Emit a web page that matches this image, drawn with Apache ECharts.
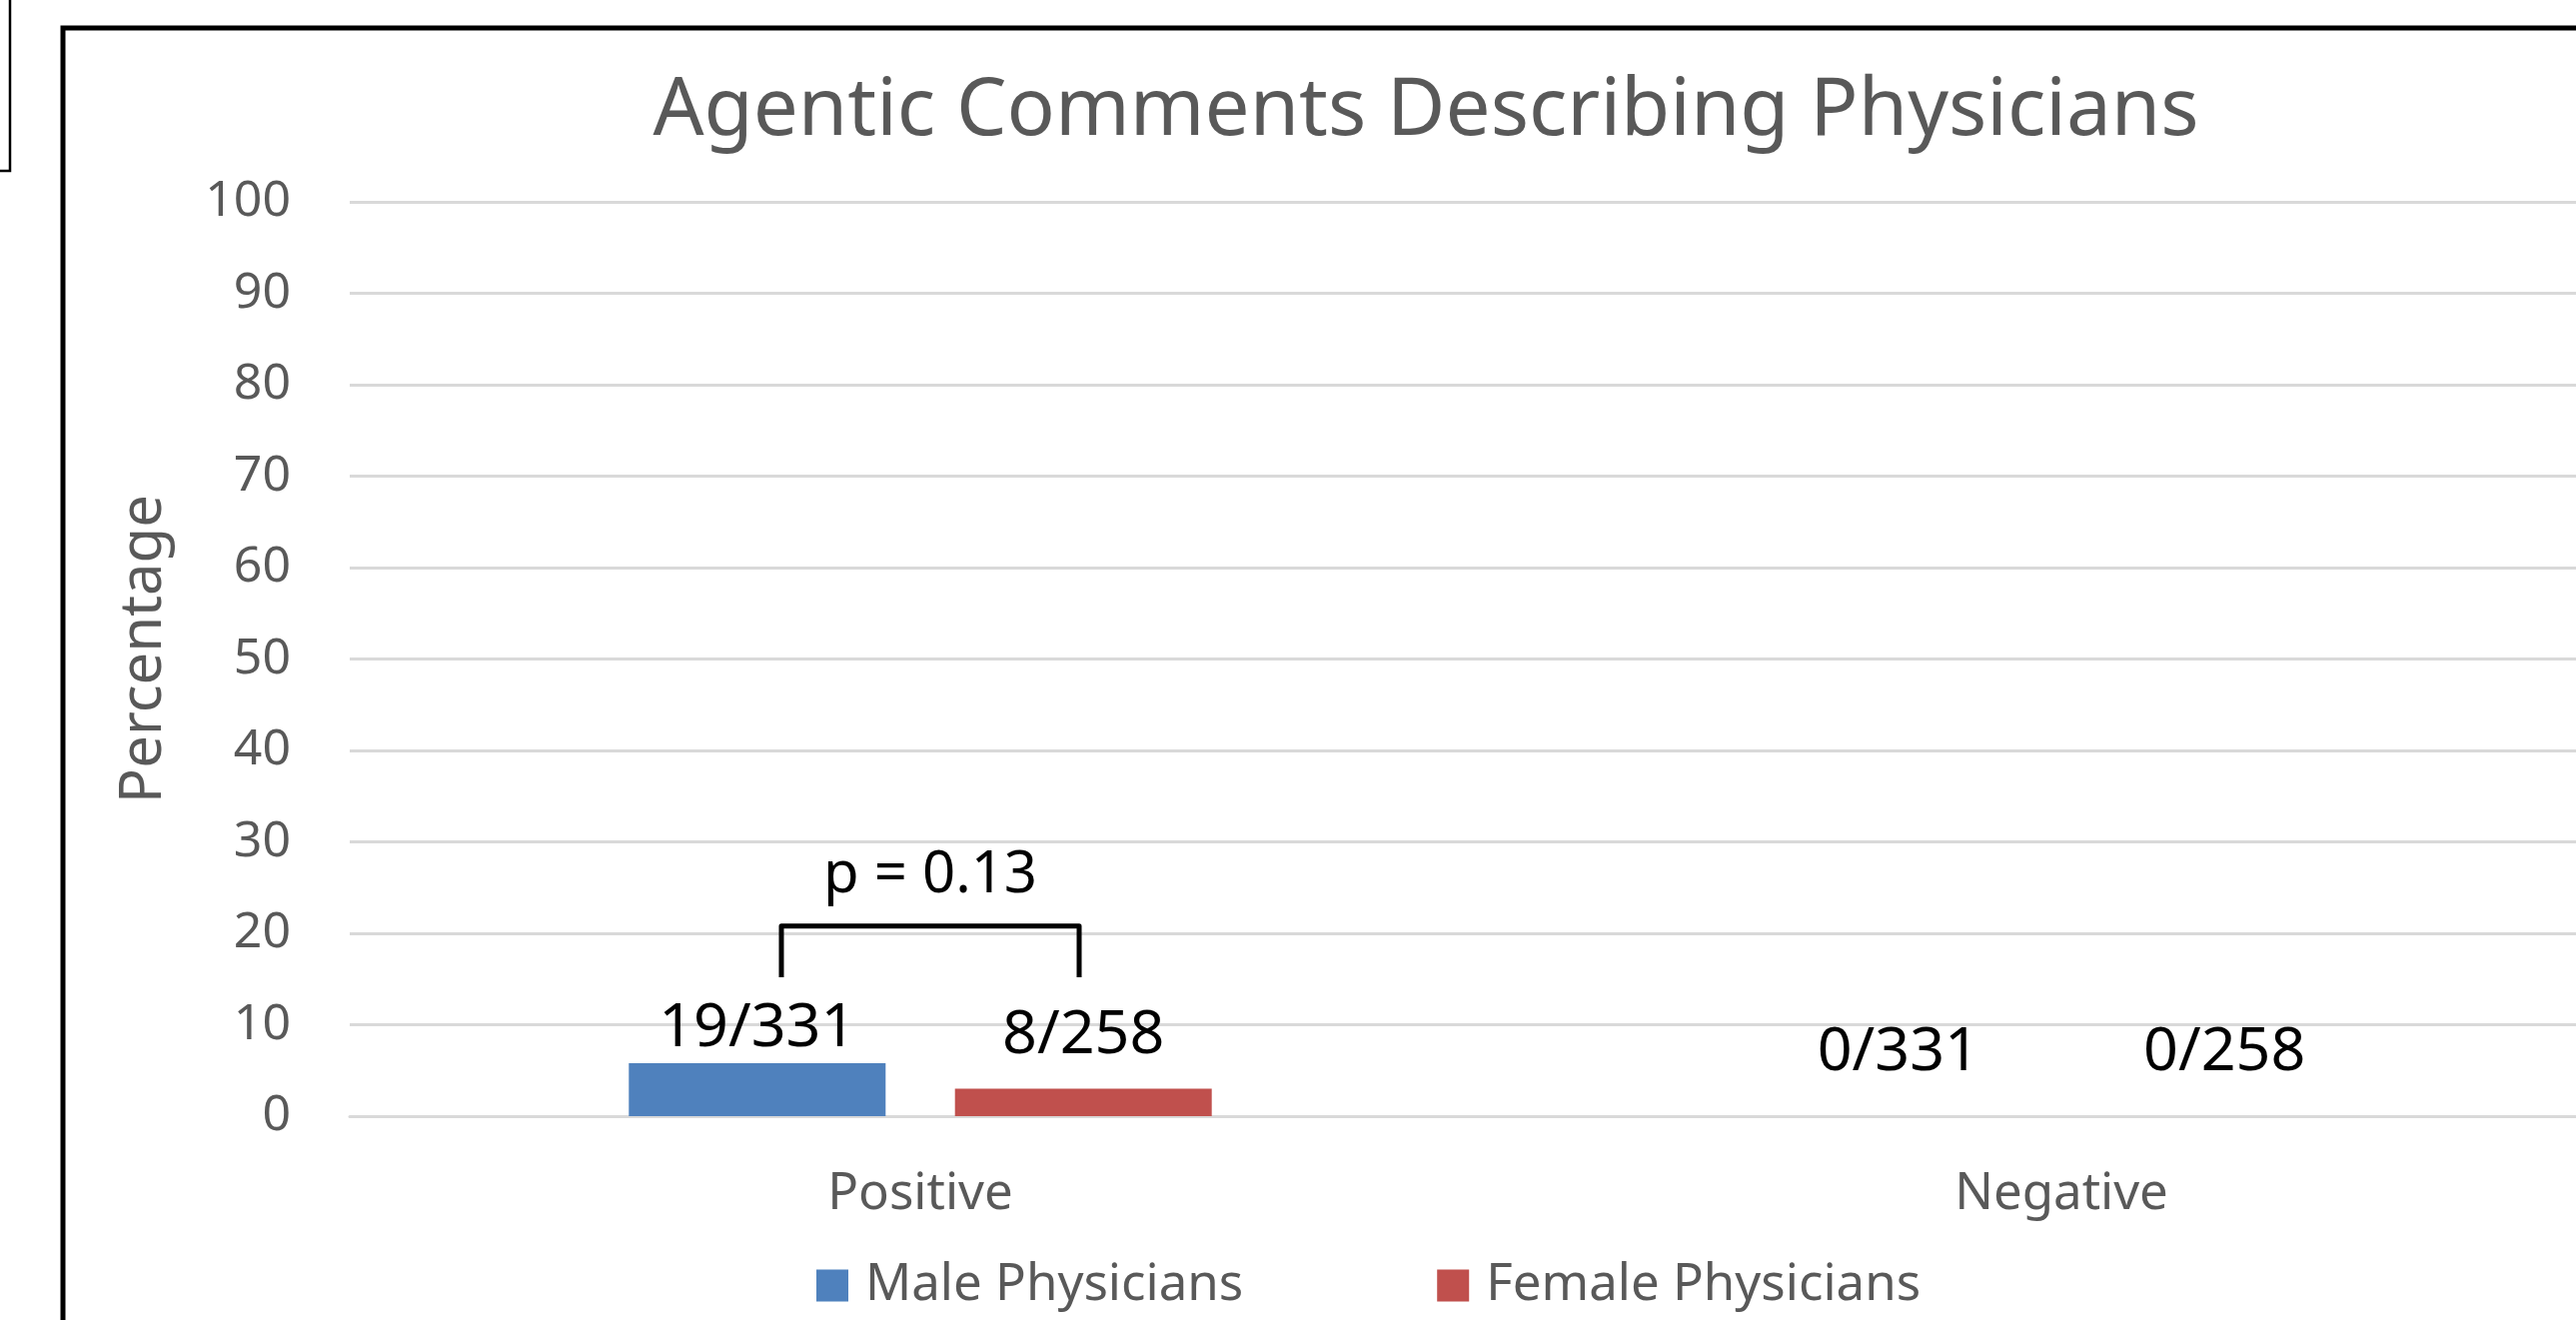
<!DOCTYPE html>
<html>
<head>
<meta charset="utf-8">
<script src="https://cdn.jsdelivr.net/npm/echarts@6/dist/echarts.min.js"></script>
<style>
  html, body { margin: 0; padding: 0; background: #fff; overflow: hidden; }
  #chart { width: 2578px; height: 1321px; }
</style>
</head>
<body>
<div id="chart"></div>
<script>
// data
const categories = ['Positive', 'Negative'];
const malePct = [5.8, 0];
const femalePct = [3.0, 0];
const maleCounts = [19, 0];
const femaleCounts = [8, 0];
const maleTotal = 331;
const femaleTotal = 258;
const seriesNames = ['Male Physicians', 'Female Physicians'];
const yMin = 0, yMax = 100, yStep = 10;

// significance bracket (in y-axis units)
const pText = 'p = 0.13';
const bracketLow = 15.2;
const bracketHigh = 20.8;
const pTextY = 26.3;

const FONT = '"Noto Sans", "Open Sans", sans-serif';
const GREY = '#595959';
const colors = ['#4f81bd', '#c0504d'];

// label lift above each bar (px), hand placed in the original
const maleLabelGap = [4, 33];
const femaleLabelGap = [22, 33];

const chart = echarts.init(document.getElementById('chart'));

const makeData = (vals, counts, total, gaps) =>
    vals.map((v, i) => ({
        value: v,
        label: { distance: gaps[i], formatter: counts[i] + '/' + total }
    }));

const barLabel = {
    show: true,
    position: 'top',
    color: '#000',
    fontFamily: FONT,
    fontSize: 61
};

chart.setOption({
    animation: false,
    backgroundColor: '#fff',
    title: {
        text: 'Agentic Comments Describing Physicians',
        left: 1422,
        top: 67,
        textAlign: 'center',
        textStyle: { color: GREY, fontFamily: FONT, fontSize: 80, fontWeight: 'normal' }
    },
    legend: {
        data: seriesNames,
        left: 812,
        top: 1256,
        icon: 'rect',
        itemWidth: 32,
        itemHeight: 32,
        itemGap: 194,
        textStyle: { color: GREY, fontFamily: FONT, fontSize: 51, padding: [0, 0, 0, 12] }
    },
    grid: {
        left: 350, top: 202, width: 2284, bottom: 204,
        containLabel: false,
        outerBoundsMode: 'none'
    },
    xAxis: {
        type: 'category',
        data: categories,
        axisLine: { show: true, lineStyle: { color: '#d9d9d9', width: 3 } },
        axisTick: { show: false },
        axisLabel: { color: GREY, fontFamily: FONT, fontSize: 51, margin: 53 }
    },
    yAxis: {
        type: 'value',
        min: yMin,
        max: yMax,
        interval: yStep,
        name: 'Percentage',
        nameLocation: 'middle',
        nameGap: 177,
        nameTextStyle: { color: GREY, fontFamily: FONT, fontSize: 58, padding: [0, 0, 0, 20] },
        axisLine: { show: false },
        axisTick: { show: false },
        axisLabel: { color: GREY, fontFamily: FONT, fontSize: 50, margin: 59 },
        splitLine: { lineStyle: { color: '#d9d9d9', width: 3 } }
    },
    series: [
        {
            name: seriesNames[0],
            type: 'bar',
            barWidth: 257,
            barGap: '27%',
            itemStyle: { color: colors[0] },
            label: barLabel,
            data: makeData(malePct, maleCounts, maleTotal, maleLabelGap)
        },
        {
            name: seriesNames[1],
            type: 'bar',
            barWidth: 257,
            barGap: '27%',
            itemStyle: { color: colors[1] },
            label: barLabel,
            data: makeData(femalePct, femaleCounts, femaleTotal, femaleLabelGap)
        }
    ]
});

// bracket + p value, placed through the axes
const center = chart.convertToPixel({ gridIndex: 0 }, [0, 0])[0];
const yLow = chart.convertToPixel({ gridIndex: 0 }, [0, bracketLow])[1];
const yHigh = chart.convertToPixel({ gridIndex: 0 }, [0, bracketHigh])[1];
const yTxt = chart.convertToPixel({ gridIndex: 0 }, [0, pTextY])[1];
const xL = center - 139, xR = center + 159;

chart.setOption({
    graphic: [
        {
            type: 'rect', z: 100, silent: true,
            shape: { x: 63, y: 28, width: 2700, height: 1400 },
            style: { fill: 'none', stroke: '#000', lineWidth: 5 }
        },
        {
            type: 'rect', z: 100, silent: true,
            shape: { x: -20, y: -20, width: 30, height: 191 },
            style: { fill: 'none', stroke: '#000', lineWidth: 2.5 }
        },
        {
            type: 'polyline', z: 100, silent: true,
            shape: { points: [[xL, yLow], [xL, yHigh], [xR, yHigh], [xR, yLow]] },
            style: { fill: 'none', stroke: '#000', lineWidth: 5, lineJoin: 'round' }
        },
        {
            type: 'text', z: 100, silent: true,
            style: {
                text: pText,
                x: (xL + xR) / 2,
                y: yTxt,
                textAlign: 'center',
                textVerticalAlign: 'middle',
                fill: '#000',
                font: '58px ' + FONT
            }
        }
    ]
});

window.addEventListener('resize', () => chart.resize());
</script>
</body>
</html>
